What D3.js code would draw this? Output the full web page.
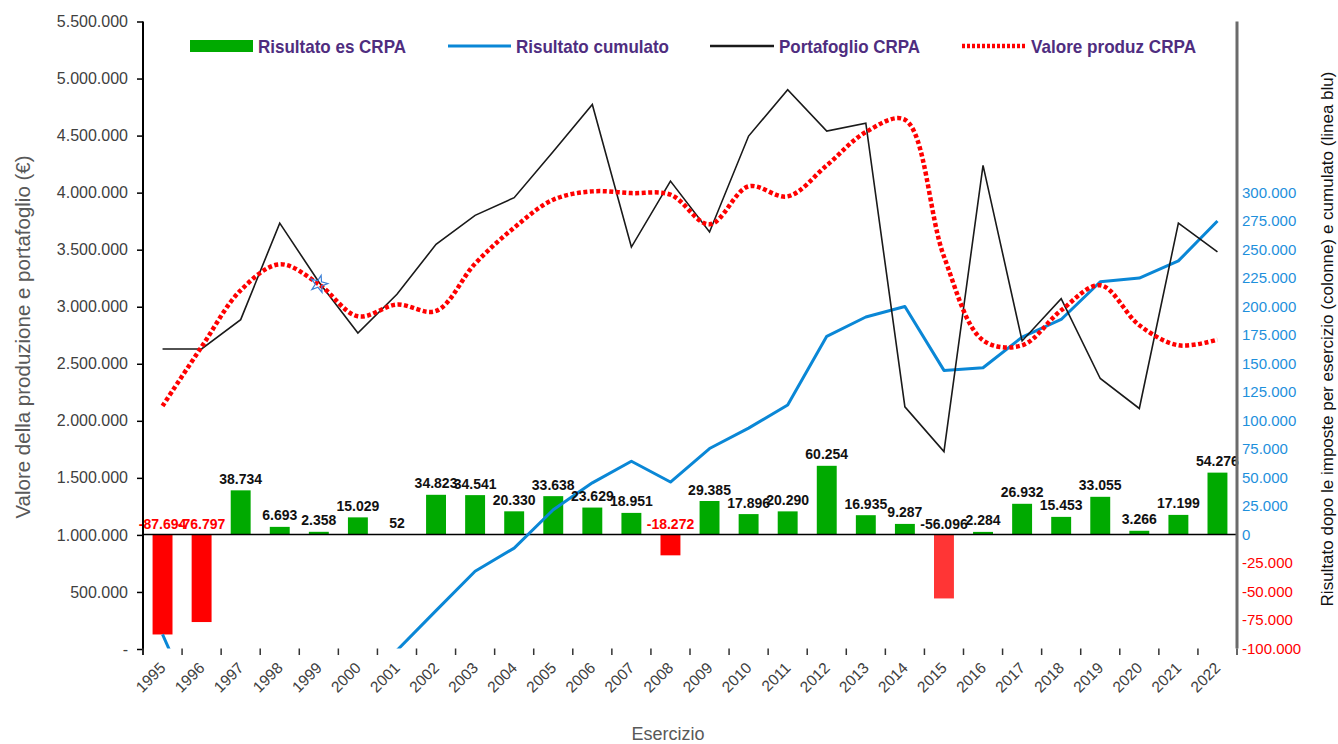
<!DOCTYPE html>
<html><head><meta charset="utf-8">
<script src="https://cdn.jsdelivr.net/npm/d3@7"></script>
<style>body{margin:0;background:#fff}svg{display:block}</style>
</head><body><svg id="c" width="1338" height="744"></svg>
<script>
const years = ["1995","1996","1997","1998","1999","2000","2001","2002","2003","2004","2005","2006","2007","2008","2009","2010","2011","2012","2013","2014","2015","2016","2017","2018","2019","2020","2021","2022"];
const risultatoEs = [-87694,-76797,38734,6693,2358,15029,52,34823,34541,20330,33638,23629,18951,-18272,29385,17896,20290,60254,16935,9287,-56096,2284,26932,15453,33055,3266,17199,54276];
const risultatoCumulato = [-87694,-164491,-125757,-119064,-116706,-101677,-101625,-66802,-32261,-11931,21707,45336,64287,46015,75400,93296,113586,173840,190775,200062,143966,146250,173182,188635,221690,224956,240000,275000];
const portafoglio = [2630000,2630000,2887000,3733000,3217000,2770000,3109000,3547000,3801000,3956000,4360000,4773000,3523000,4101000,3655000,4496000,4902000,4540000,4609000,2122000,1730000,4239000,2700000,3071000,2371000,2108000,3733000,3480000];
const valoreProduz = [2130000,2648000,3144000,3372000,3197000,2916000,3019000,2963000,3378000,3693000,3938000,4011000,3996000,3982000,3722000,4055000,3967000,4239000,4531000,4639000,3440000,2706000,2662000,2969000,3188000,2838000,2662000,2712000];
const leftTicks = [0,500000,1000000,1500000,2000000,2500000,3000000,3500000,4000000,4500000,5000000,5500000];
const rightTicks = [-100000,-75000,-50000,-25000,0,25000,50000,75000,100000,125000,150000,175000,200000,225000,250000,275000,300000];
const legendItems = ["Risultato es CRPA","Risultato cumulato","Portafoglio CRPA","Valore produz CRPA"];

const loc = d3.formatLocale({decimal:",",thousands:".",grouping:[3],currency:["","€"],minus:"-"});
const fmt = loc.format(",d");

const svg = d3.select("#c");
const L=143, R=1237, T=21.5, B=649;
const x = d3.scaleBand().domain(years).range([L,R]).paddingInner(0.49).paddingOuter(0.245);
const yL = d3.scaleLinear().domain([0,5500000]).range([B,T]);
const yR = d3.scaleLinear().domain([-100000,450000]).range([648.5,T]);
const cx = d => x(d)+x.bandwidth()/2;
const font = "'Liberation Sans',Arial,sans-serif";

svg.append("defs").append("clipPath").attr("id","plot")
  .append("rect").attr("x",L).attr("y",T).attr("width",R-L).attr("height",648.5-T);

// bars
svg.append("g").selectAll("rect").data(years).join("rect")
  .attr("x",d=>x(d)).attr("width",x.bandwidth())
  .attr("y",(d,i)=>yR(Math.max(0,risultatoEs[i])))
  .attr("height",(d,i)=>Math.abs(yR(risultatoEs[i])-yR(0)))
  .attr("fill",(d,i)=>risultatoEs[i]>=0?"#00AA00":(d==="2015"?"#FF3535":"#FF0000"));

// zero line
svg.append("line").attr("x1",L).attr("x2",R).attr("y1",yR(0)).attr("y2",yR(0))
  .attr("stroke","#000").attr("stroke-width",1.5);

// lines
const gl = svg.append("g").attr("clip-path","url(#plot)");
gl.append("path").datum(years)
  .attr("d",d3.line().x(d=>cx(d)).y((d,i)=>yR(risultatoCumulato[i])))
  .attr("fill","none").attr("stroke","#0A87D6").attr("stroke-width",3).attr("stroke-linejoin","round");
gl.append("path").datum(years)
  .attr("d",d3.line().x(d=>cx(d)).y((d,i)=>yL(portafoglio[i])))
  .attr("fill","none").attr("stroke","#1a1a1a").attr("stroke-width",1.6);
gl.append("path").datum(years)
  .attr("d",d3.line().curve(d3.curveCatmullRom.alpha(0.5)).x(d=>cx(d)).y((d,i)=>yL(valoreProduz[i])))
  .attr("fill","none").attr("stroke","#FF0000").attr("stroke-width",4.5).attr("stroke-dasharray","4,2.5");

// star marker 1999
svg.append("path").attr("d",d3.symbol(d3.symbolStar,90)())
  .attr("transform",`translate(${cx("1999")},${yL(portafoglio[4])+2}) rotate(15)`)
  .attr("fill","none").attr("stroke","#3b7fd6").attr("stroke-width",1.2);

// bar labels
svg.append("g").selectAll("text").data(years).join("text")
  .attr("x",d=>cx(d))
  .attr("y",(d,i)=>risultatoEs[i]>=0? yR(risultatoEs[i])-6.5 : yR(0)-6)
  .attr("text-anchor","middle")
  .attr("font-family",font).attr("font-weight","bold").attr("font-size",14)
  .attr("fill",(d,i)=>(risultatoEs[i]<0 && d!=="2015")?"#FF0000":"#111")
  .text((d,i)=>fmt(risultatoEs[i]));

// left axis
const axL = svg.append("g").attr("transform",`translate(${L},0)`)
  .call(d3.axisLeft(yL).tickValues(leftTicks).tickSize(6).tickPadding(9).tickFormat(v=>v===0?"-":fmt(v)));
axL.select(".domain").attr("stroke","#000").attr("stroke-width",2).attr("d",`M0,${T}V655`);
axL.selectAll(".tick line").attr("stroke","#000").attr("stroke-width",1.5);
axL.selectAll(".tick text").attr("font-family",font).attr("font-size",16).attr("fill","#404040");

// right axis
const axR = svg.append("g").attr("transform",`translate(${R},0)`)
  .call(d3.axisRight(yR).tickValues(rightTicks).tickSize(0).tickPadding(5).tickFormat(v=>fmt(v)));
axR.select(".domain").attr("stroke","#6b6b6b").attr("stroke-width",3).attr("d",`M0,${T}V648.5`);
axR.selectAll(".tick text").attr("font-family",font).attr("font-size",15)
  .attr("fill",d=>d<0?"#FF0000":"#1E90DC");

// x axis ticks (boundaries) and labels
const bounds = d3.range(years.length+1).map(i=>L+i*x.step());
svg.append("g").selectAll("line").data(bounds).join("line")
  .attr("x1",d=>d).attr("x2",d=>d).attr("y1",648.5).attr("y2",655)
  .attr("stroke","#333").attr("stroke-width",1.5);
svg.append("g").selectAll("text").data(years).join("text")
  .attr("transform",d=>`translate(${cx(d)+4},669) rotate(-45)`)
  .attr("text-anchor","end")
  .attr("font-family",font).attr("font-size",15.5).attr("fill","#404040")
  .text(d=>d);

// axis titles
svg.append("text").attr("x",668).attr("y",740).attr("text-anchor","middle")
  .attr("font-family",font).attr("font-size",18).attr("fill","#595959").text("Esercizio");
svg.append("text").attr("transform","translate(30,337) rotate(-90)").attr("text-anchor","middle")
  .attr("font-family",font).attr("font-size",20.5).attr("fill","#595959")
  .text("Valore della produzione e portafoglio (€)");
svg.append("text").attr("transform","translate(1333,339) rotate(-90)").attr("text-anchor","middle")
  .attr("font-family",font).attr("font-size",17).attr("fill","#111")
  .text("Risultato dopo le imposte per esercizio (colonne) e cumulato (linea blu)");

// legend
const lg = svg.append("g");
const lgX = [190,448,710,962];
const lgW = [148,153,141,165];
const lgFont = "'Liberation Sans Narrow','Arial Narrow',sans-serif";
lg.append("rect").attr("x",lgX[0]).attr("y",40).attr("width",63).attr("height",12).attr("fill","#00AA00");
lg.append("line").attr("x1",lgX[1]).attr("x2",lgX[1]+63).attr("y1",46).attr("y2",46).attr("stroke","#0A87D6").attr("stroke-width",3);
lg.append("line").attr("x1",lgX[2]).attr("x2",lgX[2]+64).attr("y1",46).attr("y2",46).attr("stroke","#1a1a1a").attr("stroke-width",2.5);
lg.append("line").attr("x1",lgX[3]).attr("x2",lgX[3]+64).attr("y1",46).attr("y2",46).attr("stroke","#FF0000").attr("stroke-width",4.5).attr("stroke-dasharray","3,2");
lg.selectAll("text").data(legendItems).join("text")
  .attr("x",(d,i)=>lgX[i]+[68,68,69,69][i]).attr("y",53)
  .attr("font-family",lgFont).attr("font-weight","bold").attr("font-size",19).attr("fill","#4F2D7F")
  .attr("textLength",(d,i)=>lgW[i]).attr("lengthAdjust","spacingAndGlyphs")
  .text(d=>d);
</script></body></html>
